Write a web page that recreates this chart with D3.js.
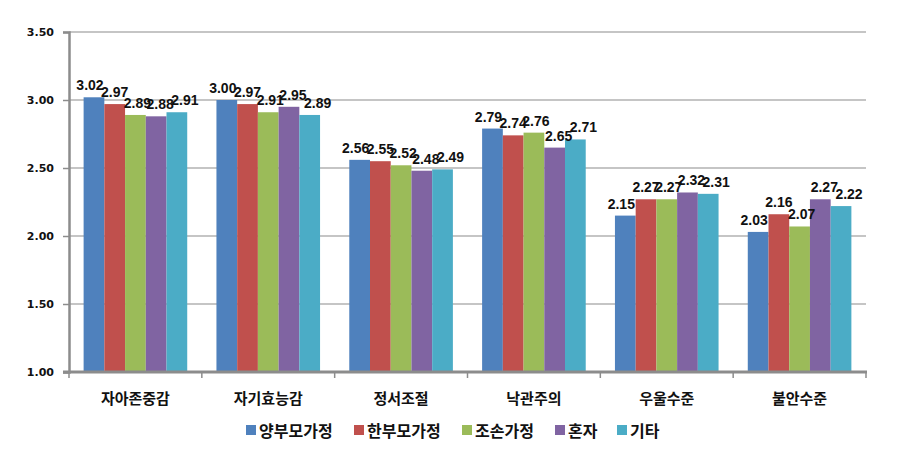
<!DOCTYPE html>
<html><head><meta charset="utf-8">
<script src="https://cdnjs.cloudflare.com/ajax/libs/d3/7.8.5/d3.min.js"></script>
<style>body{margin:0;background:#fff}</style></head>
<body><svg id="c" width="899" height="449"></svg>
<script>
const categories = ["자아존중감","자기효능감","정서조절","낙관주의","우울수준","불안수준"];
const seriesNames = ["양부모가정","한부모가정","조손가정","혼자","기타"];
const s1 = [3.02, 3.00, 2.56, 2.79, 2.15, 2.03];
const s2 = [2.97, 2.97, 2.55, 2.74, 2.27, 2.16];
const s3 = [2.89, 2.91, 2.52, 2.76, 2.27, 2.07];
const s4 = [2.88, 2.95, 2.48, 2.65, 2.32, 2.27];
const s5 = [2.91, 2.89, 2.49, 2.71, 2.31, 2.22];
const yTicks = [1.00, 1.50, 2.00, 2.50, 3.00, 3.50];
const colors = ["#4F81BD","#C0504D","#9BBB59","#8064A2","#4BACC6"];
const series = [s1,s2,s3,s4,s5];
const labelDx = [-4, 0, 2, 4, 8];

const svg = d3.select("#c");
const L = 69, R = 866, T = 32, B = 372;
const x0 = d3.scaleBand().domain(categories).range([L, R]).paddingInner(0.22).paddingOuter(0.11);
const x1 = d3.scaleBand().domain(d3.range(5)).range([0, x0.bandwidth()]);
const y = d3.scaleLinear().domain([1, 3.5]).range([B, T]);

// gridlines
svg.append("g").selectAll("line").data(yTicks.slice(1)).join("line")
  .attr("x1", L).attr("x2", R).attr("y1", d => y(d)).attr("y2", d => y(d))
  .attr("stroke", "#8c8c8c").attr("stroke-width", 1.2);

// bars
const g = svg.append("g");
series.forEach((s, si) => {
  g.selectAll(null).data(s).join("rect")
    .attr("x", (d, i) => x0(categories[i]) + x1(si))
    .attr("y", d => y(d))
    .attr("width", x1.bandwidth())
    .attr("height", d => y(1) - y(d))
    .attr("fill", colors[si]);
});
// labels
series.forEach((s, si) => {
  g.selectAll(null).data(s).join("text")
    .attr("x", (d, i) => x0(categories[i]) + x1(si) + x1.bandwidth()/2 + labelDx[si])
    .attr("y", d => y(d) - 7)
    .attr("text-anchor", "middle")
    .attr("font-family", "Liberation Sans, Arial, sans-serif")
    .attr("font-weight", "bold").attr("font-size", 14).attr("fill", "#111")
    .text(d => d.toFixed(2));
});

// y axis
const yAxis = d3.axisLeft(y).tickValues(yTicks).tickFormat(d3.format(".2f")).tickSize(6).tickPadding(9);
const ya = svg.append("g").attr("transform", `translate(${L},0)`).call(yAxis);
ya.select(".domain").attr("stroke", "#8c8c8c").attr("stroke-width", 2.5);
ya.selectAll(".tick line").attr("stroke", "#8c8c8c").attr("stroke-width", 1.5);
ya.selectAll("text").attr("font-family", "DejaVu Sans, sans-serif").attr("font-weight", "bold").attr("font-size", 11).attr("fill", "#111");

// x axis
svg.append("line").attr("x1", L - 6).attr("x2", R + 1).attr("y1", B).attr("y2", B)
  .attr("stroke", "#8c8c8c").attr("stroke-width", 3);
const step = (R - L) / categories.length;
svg.append("g").selectAll("line").data(d3.range(categories.length + 1)).join("line")
  .attr("x1", i => L + i * step).attr("x2", i => L + i * step)
  .attr("y1", B).attr("y2", B + 6).attr("stroke", "#8c8c8c").attr("stroke-width", 1.5);
svg.append("g").selectAll("text").data(categories).join("text")
  .attr("x", d => x0(d) + x0.bandwidth()/2).attr("y", 404)
  .attr("text-anchor", "middle")
  .attr("font-family", "Noto Sans CJK KR, sans-serif").attr("font-weight", "bold").attr("font-size", 15).attr("fill", "#111")
  .text(d => d);

// legend
const legX = [246, 354, 462, 555, 617];
const lg = svg.append("g");
seriesNames.forEach((n, i) => {
  lg.append("rect").attr("x", legX[i]).attr("y", 425).attr("width", 10).attr("height", 10).attr("fill", colors[i]);
  lg.append("text").attr("x", legX[i] + 13).attr("y", 437)
    .attr("font-family", "Noto Sans CJK KR, sans-serif").attr("font-weight", "bold").attr("font-size", 16).attr("fill", "#111")
    .text(n);
});
</script></body></html>
